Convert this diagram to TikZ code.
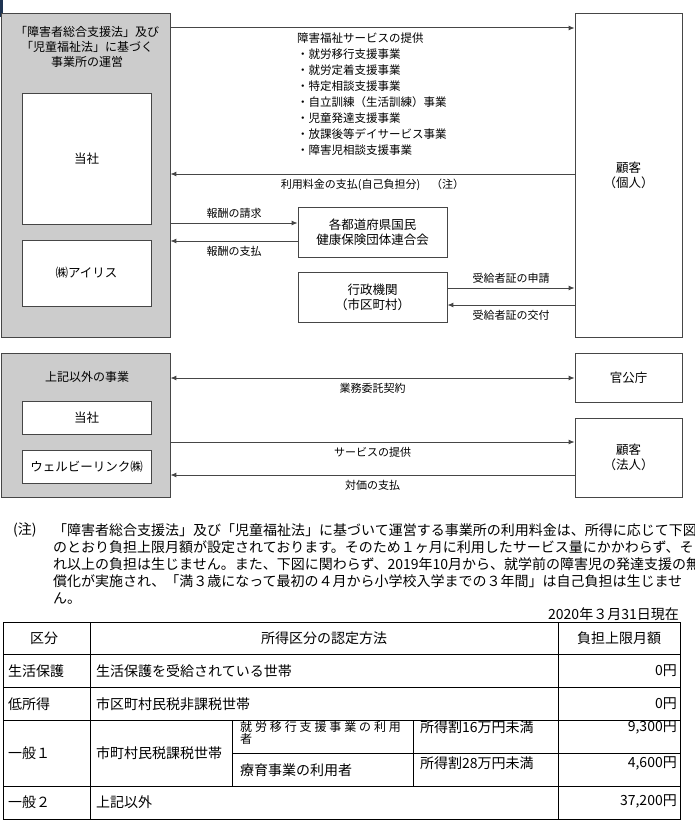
\documentclass[tikz,border=0pt]{standalone}
\usepackage{fontspec}
\setmainfont{Noto Sans CJK JP}
\newfontfamily\spacedfont[LetterSpace=24]{Noto Sans CJK JP}
\usetikzlibrary{arrows.meta, positioning}
\definecolor{linegray}{RGB}{70,70,70}
\definecolor{boxgray}{RGB}{204,204,204}
\definecolor{navymark}{RGB}{30,52,82}

\begin{document}
\begin{tikzpicture}[x=1pt, y=-1pt,
  grp/.style={draw=linegray, fill=boxgray, line width=0.8pt, minimum width=169pt, inner sep=0pt},
  box/.style={draw=linegray, fill=white, line width=0.8pt, align=center, inner sep=0pt, font=\fontsize{12.5}{15}\selectfont},
  ttl/.style={align=center, inner sep=0pt, font=\fontsize{12}{15}\selectfont},
  arr/.style={draw=linegray, line width=1pt, -{Latex[length=6pt, width=5pt]}},
  arrboth/.style={draw=linegray, line width=1pt, {Latex[length=6pt, width=5pt]}-{Latex[length=6pt, width=5pt]}},
  lbl/.style={inner sep=0pt, font=\fontsize{11}{13}\selectfont},
  cell/.style={inner sep=0pt, font=\fontsize{14}{16}\selectfont},
  tbl/.style={draw=black, line width=0.8pt}]
\useasboundingbox (0,0) rectangle (694,824);
\fill[navymark] (0,0) rectangle (3,17);

% welfare services
\node[grp, minimum height=324pt] (ops1) at (85.5,175) {};
\node[ttl] (ops1title) at (87,47) {「障害者総合支援法」及び\\「児童福祉法」に基づく\\事業所の運営};
\node[box, minimum width=129pt, minimum height=131pt] (tousha1) at (86.5,158.5) {当社};
\node[box, minimum width=129pt, minimum height=66pt] (iris) at (86.5,273) {㈱アイリス};
\node[box, minimum width=107pt, minimum height=324pt] (cust1) at (628.5,175) {顧客\\（個人）};
\node[box, minimum width=149pt, minimum height=50pt] (kokuho) at (372.5,232) {各都道府県国民\\健康保険団体連合会};
\node[box, minimum width=149pt, minimum height=50pt] (gyosei) at (372.5,297) {行政機関\\（市区町村）};

\node[lbl, anchor=north west, align=left, font=\fontsize{11.5}{16}\selectfont] (services) at (297,33)
  {障害福祉サービスの提供\\・就労移行支援事業\\・就労定着支援事業\\・特定相談支援事業\\・自立訓練（生活訓練）事業\\・児童発達支援事業\\・放課後等デイサービス事業\\・障害児相談支援事業};

\draw[arr] (ops1.east |- 0,28) -- (cust1.west |- 0,28);
\draw[arr] (cust1.west |- 0,174) -- node[lbl, below=5pt] (fee) {利用料金の支払(自己負担分)　（注）} (ops1.east |- 0,174);
\draw[arr] (ops1.east |- 0,223) -- node[lbl, above=4pt] (claim) {報酬の請求} (kokuho.west |- 0,223);
\draw[arr] (kokuho.west |- 0,241) -- node[lbl, below=5pt] (paid) {報酬の支払} (ops1.east |- 0,241);
\draw[arr] (gyosei.east |- 0,288) -- node[lbl, above=4pt] (apply) {受給者証の申請} (cust1.west |- 0,288);
\draw[arr] (cust1.west |- 0,305) -- node[lbl, below=5pt] (issue) {受給者証の交付} (gyosei.east |- 0,305);

% other business
\node[grp, minimum height=144pt] (ops2) at (85.5,425) {};
\node[ttl] (ops2title) at (87,377) {上記以外の事業};
\node[box, minimum width=129pt, minimum height=33pt] (tousha2) at (86.5,417.5) {当社};
\node[box, minimum width=129pt, minimum height=33pt] (wellbe) at (86.5,466.5) {ウェルビーリンク㈱};
\node[box, minimum width=107pt, minimum height=49pt] (kancho) at (628.5,377.5) {官公庁};
\node[box, minimum width=107pt, minimum height=79pt] (cust2) at (628.5,457.5) {顧客\\（法人）};

\draw[arrboth] (ops2.east |- 0,378) -- node[lbl, below=5pt] (contract) {業務委託契約} (kancho.west |- 0,378);
\draw[arr] (ops2.east |- 0,442) -- node[lbl, below=5pt] (provide) {サービスの提供} (cust2.west |- 0,442);
\draw[arr] (cust2.west |- 0,475) -- node[lbl, below=5pt] (price) {対価の支払} (ops2.east |- 0,475);

% note
\node[cell, anchor=west] (notemark) at (13,530) {(注)};
\node[cell, anchor=north west, align=left, font=\fontsize{14}{17}\selectfont] (notetext) at (53,523)
  {「障害者総合支援法」及び「児童福祉法」に基づいて運営する事業所の利用料金は、所得に応じて下図\\
   のとおり負担上限月額が設定されております。そのため１ヶ月に利用したサービス量にかかわらず、そ\\
   れ以上の負担は生じません。また、下図に関わらず、2019年10月から、就学前の障害児の発達支援の無\\
   償化が実施され、「満３歳になって最初の４月から小学校入学までの３年間」は自己負担は生じませ\\
   ん。};
\node[cell, anchor=east] (asof) at (679,614) {2020年３月31日現在};

% table
\draw[tbl] (3,622) rectangle (680,819);
\draw[tbl] (3,654) -- (680,654);
\draw[tbl] (3,687) -- (680,687);
\draw[tbl] (3,720) -- (680,720);
\draw[tbl] (232,753) -- (680,753);
\draw[tbl] (3,786) -- (680,786);
\draw[tbl] (90,622) -- (90,819);
\draw[tbl] (558,622) -- (558,819);
\draw[tbl] (232,720) -- (232,786);
\draw[tbl] (413,720) -- (413,786);

\node[cell] (hkubun) at (44,638) {区分};
\node[cell] (hmethod) at (324,638) {所得区分の認定方法};
\node[cell] (hlimit) at (619,638) {負担上限月額};

\node[cell, anchor=west] (k1) at (8,671) {生活保護};
\node[cell, anchor=west] (m1) at (96,671) {生活保護を受給されている世帯};
\node[cell, anchor=east] (l1) at (677,671) {0円};

\node[cell, anchor=west] (k2) at (8,704) {低所得};
\node[cell, anchor=west] (m2) at (96,704) {市区町村民税非課税世帯};
\node[cell, anchor=east] (l2) at (677,704) {0円};

\node[cell, anchor=west] (k3) at (8,753) {一般１};
\node[cell, anchor=west] (m3) at (96,753) {市町村民税課税世帯};
\node[cell, anchor=north west, align=left, font=\spacedfont\fontsize{12}{12.5}\selectfont] (u1) at (240,721) {就労移行支援事業の利用\\者};
\node[cell, anchor=west] (u2) at (240,770) {療育事業の利用者};
\node[cell, anchor=west] (i1) at (420,727) {所得割16万円未満};
\node[cell, anchor=east] (l3) at (677,727) {9,300円};
\node[cell, anchor=west] (i2) at (420,763) {所得割28万円未満};
\node[cell, anchor=east] (l4) at (677,763) {4,600円};

\node[cell, anchor=west] (k4) at (8,802) {一般２};
\node[cell, anchor=west] (m4) at (96,802) {上記以外};
\node[cell, anchor=east] (l5) at (677,801) {37,200円};
\end{tikzpicture}
\end{document}
